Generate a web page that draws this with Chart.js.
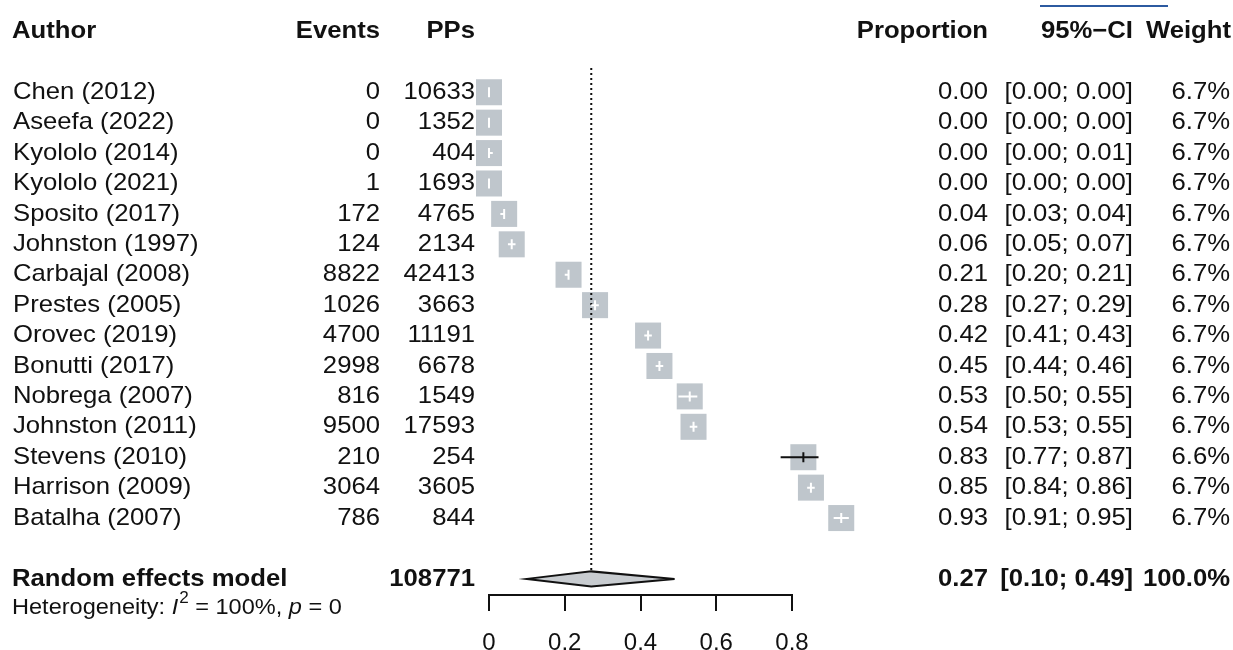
<!DOCTYPE html>
<html>
<head>
<meta charset="utf-8">
<script src="https://cdn.jsdelivr.net/npm/chart.js@4.4.0/dist/chart.umd.min.js"></script>
<style>
  html, body { margin: 0; padding: 0; background: #fff; }
  #wrap { width: 1233px; height: 650px; }
</style>
</head>
<body>
<div id="wrap"><canvas id="forest" width="1233" height="650"></canvas></div>
<script>
// 研究資料
const authors = ['Chen (2012)', 'Aseefa (2022)', 'Kyololo (2014)', 'Kyololo (2021)', 'Sposito (2017)',
  'Johnston (1997)', 'Carbajal (2008)', 'Prestes (2005)', 'Orovec (2019)', 'Bonutti (2017)',
  'Nobrega (2007)', 'Johnston (2011)', 'Stevens (2010)', 'Harrison (2009)', 'Batalha (2007)'];
const events = [0, 0, 0, 1, 172, 124, 8822, 1026, 4700, 2998, 816, 9500, 210, 3064, 786];
const pps = [10633, 1352, 404, 1693, 4765, 2134, 42413, 3663, 11191, 6678, 1549, 17593, 254, 3605, 844];
const props = [0.00, 0.00, 0.00, 0.00, 0.04, 0.06, 0.21, 0.28, 0.42, 0.45, 0.53, 0.54, 0.83, 0.85, 0.93];
const ciLow = [0.00, 0.00, 0.00, 0.00, 0.03, 0.05, 0.20, 0.27, 0.41, 0.44, 0.50, 0.53, 0.77, 0.84, 0.91];
const ciHigh = [0.00, 0.00, 0.01, 0.00, 0.04, 0.07, 0.21, 0.29, 0.43, 0.46, 0.55, 0.55, 0.87, 0.86, 0.95];
const weights = [6.7, 6.7, 6.7, 6.7, 6.7, 6.7, 6.7, 6.7, 6.7, 6.7, 6.7, 6.7, 6.6, 6.7, 6.7];

// 合併結果
const modelLabel = 'Random effects model';
const modelTotal = 108771;
const modelProp = 0.27;
const modelLow = 0.10;
const modelHigh = 0.49;
const modelWeight = 100.0;

// x 軸刻度
const tickValues = [0, 0.2, 0.4, 0.6, 0.8];
const tickLabels = ['0', '0.2', '0.4', '0.6', '0.8'];

const FONT = '"Liberation Sans", Arial, sans-serif';
const SQ = '#bfc6cc';
const SX = 1.07; // 文字橫向拉寬
const modelRow = authors.length + 1;

const points = props.map((p, i) => ({ x: p, y: i }));

// 寫文字 (略為拉寬)
function drawText(ctx, txt, x, y, align, font) {
  ctx.save();
  ctx.font = font;
  ctx.textAlign = align;
  ctx.textBaseline = 'middle';
  ctx.translate(x, y);
  ctx.scale(SX, 1);
  ctx.fillText(txt, 0, 0);
  const w = ctx.measureText(txt).width * SX;
  ctx.restore();
  return w;
}

// 畫文字欄位、信賴區間、菱形
const forestPlugin = {
  id: 'forest',
  afterDatasetsDraw(chart) {
    const ctx = chart.ctx;
    const xs = chart.scales.x;
    const ys = chart.scales.y;
    const half = 13;

    ctx.save();
    // x 軸線 (只畫到最後一個刻度)
    ctx.strokeStyle = '#111';
    ctx.lineWidth = 2;
    ctx.beginPath();
    ctx.moveTo(xs.getPixelForValue(tickValues[0]) - 1, xs.top);
    ctx.lineTo(xs.getPixelForValue(tickValues[tickValues.length - 1]) + 1, xs.top);
    ctx.stroke();

    // 虛線 (合併估計)
    ctx.setLineDash([2, 3]);
    ctx.beginPath();
    ctx.moveTo(xs.getPixelForValue(modelProp), ys.getPixelForValue(-0.8));
    ctx.lineTo(xs.getPixelForValue(modelProp), ys.getPixelForValue(modelRow - 0.27));
    ctx.stroke();
    ctx.setLineDash([]);

    // 信賴區間
    for (let i = 0; i < authors.length; i++) {
      const cx = xs.getPixelForValue(props[i]);
      const cy = ys.getPixelForValue(i);
      const x1 = xs.getPixelForValue(ciLow[i]);
      const x2 = xs.getPixelForValue(ciHigh[i]);
      const inside = (x1 > cx - half) && (x2 < cx + half);
      ctx.strokeStyle = inside ? '#ffffff' : '#111';
      ctx.lineWidth = 2;
      ctx.beginPath();
      ctx.moveTo(x1, cy);
      ctx.lineTo(x2, cy);
      ctx.moveTo(cx, cy - 5);
      ctx.lineTo(cx, cy + 5);
      ctx.stroke();
    }

    // 菱形
    const my = ys.getPixelForValue(modelRow);
    const dh = 7.5;
    ctx.beginPath();
    ctx.moveTo(xs.getPixelForValue(modelLow), my);
    ctx.lineTo(xs.getPixelForValue(modelProp), my - dh);
    ctx.lineTo(xs.getPixelForValue(modelHigh), my);
    ctx.lineTo(xs.getPixelForValue(modelProp), my + dh);
    ctx.closePath();
    ctx.fillStyle = '#c8ccd0';
    ctx.fill();
    ctx.strokeStyle = '#111';
    ctx.lineWidth = 2;
    ctx.stroke();

    // 文字
    ctx.fillStyle = '#111';
    const hy = ys.getPixelForValue(-2);
    const bold = 'bold 24px ' + FONT;
    const norm = '24px ' + FONT;
    drawText(ctx, 'Author', 12, hy, 'left', bold);
    drawText(ctx, 'Events', 380, hy, 'right', bold);
    drawText(ctx, 'PPs', 475, hy, 'right', bold);
    drawText(ctx, 'Proportion', 988, hy, 'right', bold);
    drawText(ctx, '95%\u2212CI', 1133, hy, 'right', bold);
    drawText(ctx, 'Weight', 1231, hy, 'right', bold);

    for (let i = 0; i < authors.length; i++) {
      const y = ys.getPixelForValue(i);
      drawText(ctx, authors[i], 13, y, 'left', norm);
      drawText(ctx, String(events[i]), 380, y, 'right', norm);
      drawText(ctx, String(pps[i]), 475, y, 'right', norm);
      drawText(ctx, props[i].toFixed(2), 988, y, 'right', norm);
      drawText(ctx, '[' + ciLow[i].toFixed(2) + '; ' + ciHigh[i].toFixed(2) + ']', 1133, y, 'right', norm);
      drawText(ctx, weights[i].toFixed(1) + '%', 1230, y, 'right', norm);
    }

    drawText(ctx, modelLabel, 12, my, 'left', bold);
    drawText(ctx, String(modelTotal), 475, my, 'right', bold);
    drawText(ctx, modelProp.toFixed(2), 988, my, 'right', bold);
    drawText(ctx, '[' + modelLow.toFixed(2) + '; ' + modelHigh.toFixed(2) + ']', 1133, my, 'right', bold);
    drawText(ctx, modelWeight.toFixed(1) + '%', 1230, my, 'right', bold);

    // 異質性
    const hgY = my + 29;
    let x = 12;
    const f = '22px ' + FONT;
    const fi = 'italic 22px ' + FONT;
    x += drawText(ctx, 'Heterogeneity: ', x, hgY, 'left', f);
    x += drawText(ctx, 'I', x, hgY, 'left', fi) + 1;
    x += drawText(ctx, '2', x, hgY - 9, 'left', '16px ' + FONT);
    x += drawText(ctx, ' = 100%, ', x, hgY, 'left', f);
    x += drawText(ctx, 'p', x, hgY, 'left', fi);
    drawText(ctx, ' = 0', x, hgY, 'left', f);

    // 上方藍線
    ctx.strokeStyle = '#2c5aa0';
    ctx.lineWidth = 2;
    ctx.beginPath();
    ctx.moveTo(1040, 6);
    ctx.lineTo(1168, 6);
    ctx.stroke();
    ctx.restore();
  }
};

new Chart(document.getElementById('forest'), {
  type: 'scatter',
  data: {
    datasets: [{
      label: 'Proportion',
      data: points,
      pointStyle: 'rect',
      pointRadius: 18.4,
      pointHoverRadius: 18.4,
      backgroundColor: SQ,
      borderWidth: 0,
      clip: false
    }]
  },
  options: {
    responsive: false,
    animation: false,
    events: [],
    layout: {
      autoPadding: false,
      // x 由 0 到 1.0: 0 在 489px, 0.8 在 792px
      padding: { left: 489, right: 365.25, top: 1, bottom: 0 }
    },
    scales: {
      x: {
        type: 'linear',
        min: 0,
        max: 1.0,
        afterFit(scale) { scale.height = 55; },
        afterBuildTicks(scale) { scale.ticks = tickValues.map(v => ({ value: v })); },
        ticks: {
          color: '#111',
          padding: 18,
          font: { family: FONT, size: 24 },
          callback: (v, i) => tickLabels[i]
        },
        grid: {
          drawOnChartArea: false,
          color: '#111',
          lineWidth: 2,
          tickLength: 16
        },
        border: { display: false }
      },
      y: {
        type: 'linear',
        display: false,
        reverse: true,
        min: -3,
        max: 16.53
      }
    },
    plugins: {
      legend: { display: false },
      tooltip: { enabled: false },
      title: { display: false }
    }
  },
  plugins: [forestPlugin]
});
</script>
</body>
</html>
